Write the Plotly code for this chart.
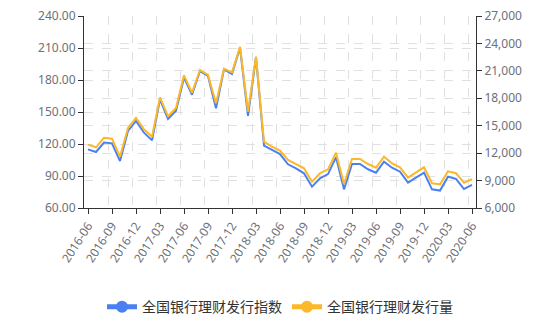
import plotly.graph_objects as go

months = [f"{y}-{m:02d}" for y, m in
          [(2016, m) for m in range(6, 13)] + [(2017, m) for m in range(1, 13)] +
          [(2018, m) for m in range(1, 13)] + [(2019, m) for m in range(1, 13)] +
          [(2020, m) for m in range(1, 7)]]

index_values = [115.0, 112.5, 121.3, 120.6, 104.0, 132.2, 141.6, 130.6, 123.4, 161.9,
                143.4, 151.2, 182.2, 166.2, 188.4, 183.8, 153.4, 190.0, 185.6, 210.3,
                146.3, 201.3, 118.4, 114.4, 110.6, 101.0, 97.2, 92.5, 80.0, 87.8,
                91.8, 107.5, 77.5, 101.3, 101.3, 96.3, 93.1, 103.4, 97.8, 94.0,
                83.8, 88.4, 93.1, 77.5, 76.3, 89.4, 87.2, 77.8, 81.6]

volume_values = [12930, 12640, 13690, 13580, 11610, 14750, 15840, 14600, 13800, 18100,
                 16030, 16940, 20510, 18610, 21090, 20550, 17450, 21240, 20840, 23640,
                 16540, 22550, 13250, 12700, 12270, 11250, 10810, 10340, 8880, 9800,
                 10230, 12050, 8625, 11360, 11360, 10810, 10410, 11610, 10890, 10450,
                 9320, 9900, 10450, 8700, 8590, 10010, 9800, 8770, 9140]

series_names = ["全国银行理财发行指数", "全国银行理财发行量"]
colors = ["#4a80f2", "#fbb82a"]

tick_labels = months[::3]
left_ticks = [60, 90, 120, 150, 180, 210, 240]
right_ticks = [6000, 9000, 12000, 15000, 18000, 21000, 24000, 27000]

n = len(months)
grid_pos = [k - 0.5 for k in range(3, n, 3)]
grid_color = "#e0e0e0"
axis_font = dict(family="Noto Sans, DejaVu Sans, sans-serif", size=12, color="#6e7079")

fig = go.Figure()
# legend entries (line + circle symbol), attached to the grid-only x axis
for name, c in zip(series_names, colors):
    fig.add_trace(go.Scatter(x=[None], y=[None], mode="lines+markers", name=name,
                             line=dict(color=c, width=2),
                             marker=dict(color=c, size=10, symbol="circle"),
                             xaxis="x2", yaxis="y", hoverinfo="skip"))
fig.add_trace(go.Scatter(x=months, y=index_values, mode="lines", name=series_names[0],
                         line=dict(color=colors[0], width=2), showlegend=False,
                         xaxis="x", yaxis="y"))
fig.add_trace(go.Scatter(x=months, y=volume_values, mode="lines", name=series_names[1],
                         line=dict(color=colors[1], width=2), showlegend=False,
                         xaxis="x", yaxis="y2"))

fig.update_layout(
    width=560, height=320,
    margin=dict(l=84, r=84, t=16, b=112, autoexpand=False),
    paper_bgcolor="white", plot_bgcolor="white",
    showlegend=True,
    legend=dict(orientation="h", xref="container", yref="container",
                x=0.5, xanchor="center", y=0.04, yanchor="middle",
                font=dict(family="Noto Sans CJK SC", size=14, color="#333333"),
                itemwidth=30, itemsizing="constant", tracegroupgap=0),
    xaxis=dict(type="category", categoryorder="array", categoryarray=months,
               range=[-0.5, n - 0.5], tickmode="array", tickvals=tick_labels,
               ticktext=tick_labels, tickangle=-57, showgrid=False,
               showline=True, linecolor="#333333", linewidth=1,
               ticks="outside", ticklen=5, tickcolor="#333333",
               tickfont=axis_font, zeroline=False, automargin=False),
    xaxis2=dict(overlaying="x", anchor="y", side="bottom", type="linear",
                range=[-0.5, n - 0.5],
                tickmode="array", tickvals=grid_pos, showticklabels=False, ticks="",
                showgrid=True, gridcolor=grid_color, griddash="dash", gridwidth=1,
                showline=False, zeroline=False, automargin=False),
    yaxis=dict(range=[60, 240], tickmode="array", tickvals=left_ticks,
               tickformat=".2f", showgrid=True, gridcolor=grid_color, griddash="dash",
               showline=True, linecolor="#333333", linewidth=1,
               ticks="outside", ticklen=5, tickcolor="#333333",
               tickfont=axis_font, zeroline=False, automargin=False),
    yaxis2=dict(range=[6000, 27000], overlaying="y", side="right", anchor="x",
                tickmode="array", tickvals=right_ticks, tickformat=",d",
                showgrid=True, gridcolor=grid_color, griddash="dash",
                showline=True, linecolor="#333333", linewidth=1,
                ticks="outside", ticklen=5, tickcolor="#333333",
                tickfont=axis_font, zeroline=False, automargin=False),
)

fig.write_html("out.html")
